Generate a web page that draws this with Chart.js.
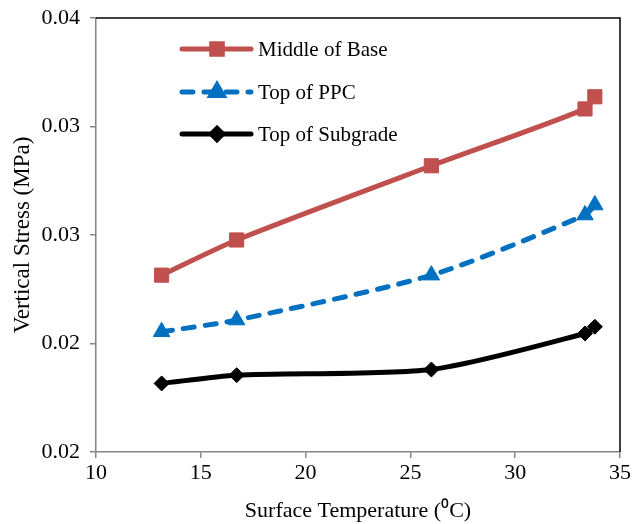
<!DOCTYPE html>
<html>
<head>
<meta charset="utf-8">
<script src="https://cdn.jsdelivr.net/npm/chart.js@4/dist/chart.umd.min.js"></script>
<style>
html,body{margin:0;padding:0;background:#fff;}
#wrap{width:643px;height:524px;position:relative;}
</style>
</head>
<body>
<div id="wrap"><canvas id="c" width="643" height="524"></canvas></div>
<script>
// Data
const seriesNames = ['Middle of Base', 'Top of PPC', 'Top of Subgrade'];
const temperature = [13.13, 16.71, 26.0, 33.33, 33.8];
const middleOfBase = [0.02315, 0.02477, 0.02819, 0.03081, 0.03137];
const topOfPPC = [0.02054, 0.02108, 0.02315, 0.02592, 0.02638];
const topOfSubgrade = [0.01816, 0.01854, 0.01880, 0.02046, 0.02077];
const xTickValues = [10, 15, 20, 25, 30, 35];
const yTickValues = [0.015, 0.020, 0.025, 0.030, 0.035];
const yTickLabels = ['0.02', '0.02', '0.03', '0.03', '0.04'];
const xTitle = 'Surface Temperature (\u2070C)';
const yTitle = 'Vertical Stress (MPa)';

const FONT = '"Liberation Serif", "Times New Roman", serif';
const toPts = (xs, ys) => xs.map((x, i) => ({x: x, y: ys[i]}));

const frame = {
  id: 'frame',
  beforeDatasetsDraw(chart) {
    const {ctx, chartArea: a} = chart;
    ctx.save();
    ctx.strokeStyle = '#000';
    ctx.lineWidth = 1.5;
    ctx.beginPath();
    ctx.moveTo(a.left, a.top);
    ctx.lineTo(a.right, a.top);
    ctx.lineTo(a.right, a.bottom);
    ctx.stroke();
    ctx.restore();
  }
};

const legendBox = {
  id: 'legendBox',
  afterDraw(chart) {
    const {ctx} = chart;
    const rows = [49, 92, 134];
    const x0 = 182, x1 = 251, xm = 217, tx = 258;
    ctx.save();
    chart.data.datasets.forEach((ds, i) => {
      const y = rows[i];
      ctx.strokeStyle = ds.borderColor;
      ctx.lineWidth = ds.borderWidth;
      ctx.lineCap = 'round';
      ctx.setLineDash(ds.borderDash || []);
      ctx.beginPath();
      ctx.moveTo(x0, y);
      ctx.lineTo(x1, y);
      ctx.stroke();
      ctx.setLineDash([]);
      ctx.fillStyle = ds.pointBackgroundColor;
      ctx.strokeStyle = ds.pointBorderColor;
      Chart.helpers.drawPoint(ctx, {
        pointStyle: ds.pointStyle,
        radius: ds.pointRadius * 0.75,
        rotation: 0,
        borderWidth: ds.pointBorderWidth
      }, xm, y);
      ctx.fillStyle = '#000';
      ctx.font = '21px ' + FONT;
      ctx.textBaseline = 'middle';
      ctx.textAlign = 'left';
      ctx.fillText(ds.label, tx, y + 1);
    });
    ctx.restore();
  }
};

const common = {
  borderWidth: 5,
  pointBorderWidth: 1,
  tension: 0.25,
  fill: false,
  borderCapStyle: 'round',
  borderJoinStyle: 'round'
};

new Chart(document.getElementById('c'), {
  type: 'line',
  data: {
    datasets: [
      Object.assign({}, common, {
        label: seriesNames[0],
        data: toPts(temperature, middleOfBase),
        borderColor: '#C0504D',
        pointBackgroundColor: '#C0504D',
        pointBorderColor: '#C0504D',
        pointStyle: 'rect',
        pointRadius: 10
      }),
      Object.assign({}, common, {
        label: seriesNames[1],
        data: toPts(temperature, topOfPPC),
        borderColor: '#0070C0',
        borderDash: [11, 11],
        pointBackgroundColor: '#0070C0',
        pointBorderColor: '#0070C0',
        pointStyle: 'triangle',
        pointRadius: 9.5
      }),
      Object.assign({}, common, {
        label: seriesNames[2],
        data: toPts(temperature, topOfSubgrade),
        borderColor: '#000000',
        pointBackgroundColor: '#000000',
        pointBorderColor: '#000000',
        pointStyle: 'rectRot',
        pointRadius: 7.5
      })
    ]
  },
  options: {
    responsive: false,
    animation: false,
    devicePixelRatio: 1,
    layout: {padding: {top: 18, right: 23, bottom: 0, left: 0}},
    plugins: {legend: {display: false}, tooltip: {enabled: false}},
    scales: {
      x: {
        type: 'linear',
        min: 10, max: 35,
        afterFit(s) { s.height = 72; s.paddingLeft = 0; s.paddingRight = 0; },
        afterBuildTicks(s) { s.ticks = xTickValues.map(v => ({value: v})); },
        ticks: {
          color: '#000',
          font: {family: FONT, size: 22},
          padding: 2,
          callback: (v) => String(v)
        },
        grid: {drawOnChartArea: false, drawTicks: true, tickLength: 6, color: '#868686', lineWidth: 1.5},
        border: {display: true, color: '#868686', width: 1.5},
        title: {display: true, text: xTitle, color: '#000', font: {family: FONT, size: 22}, padding: {top: 0, bottom: 0}}
      },
      y: {
        type: 'linear',
        min: 0.015, max: 0.035,
        afterFit(s) { s.width = 96; s.paddingTop = 0; s.paddingBottom = 0; },
        afterBuildTicks(s) { s.ticks = yTickValues.map(v => ({value: v})); },
        ticks: {
          color: '#000',
          font: {family: FONT, size: 22},
          padding: 10,
          callback: (v, i) => yTickLabels[i]
        },
        grid: {drawOnChartArea: false, drawTicks: true, tickLength: 6, color: '#868686', lineWidth: 1.5},
        border: {display: true, color: '#868686', width: 1.5},
        title: {display: true, text: yTitle, color: '#000', font: {family: FONT, size: 23}, padding: {top: 9, bottom: 0}}
      }
    }
  },
  plugins: [frame, legendBox]
});
</script>
</body>
</html>
